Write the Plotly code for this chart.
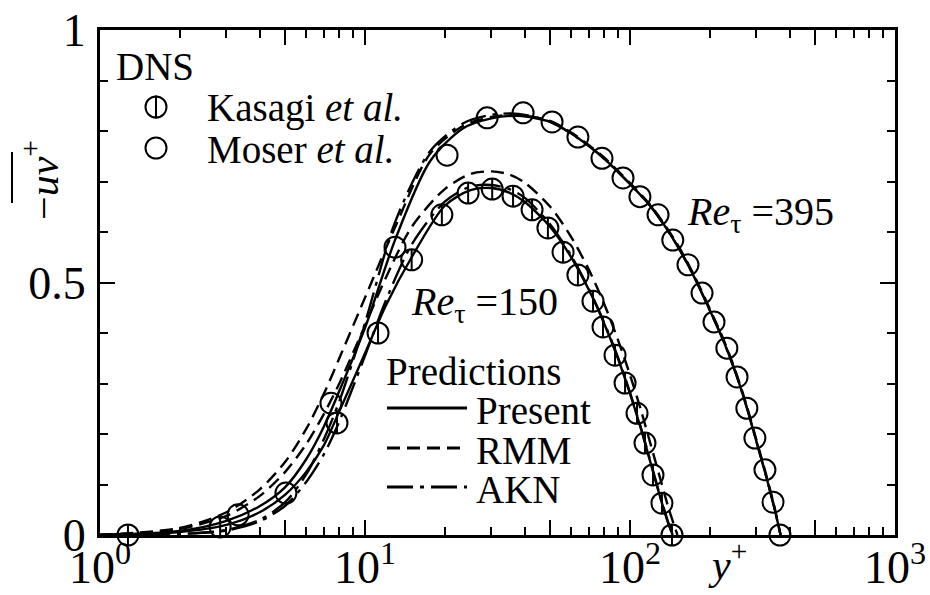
import plotly.graph_objects as go

# ---- DNS data: -uv+ against y+ ----
kasagi_yp = [1.275, 2.84, 7.84, 11.2, 15.0, 19.5, 24.5, 30.2, 36.2, 42.7, 49.0, 55.9,
             63.6, 72.5, 79.1, 87.8, 95.8, 106.3, 113.9, 122.1, 132.0, 144.0]
kasagi_uv = [0.0, 0.016, 0.222, 0.40, 0.545, 0.634, 0.677, 0.685, 0.671, 0.644, 0.608, 0.560,
             0.515, 0.463, 0.412, 0.356, 0.301, 0.241, 0.182, 0.119, 0.063, 0.0]

moser_yp = [3.32, 5.03, 7.44, 12.98, 20.4, 28.9, 39.5, 50.8, 63.6, 78.4, 94.1, 109.0,
            127.6, 145.0, 165.5, 187.0, 207.5, 232.0, 253.5, 276.0, 296.0, 323.0, 346.5, 368.0]
moser_uv = [0.040, 0.083, 0.261, 0.570, 0.752, 0.826, 0.836, 0.818, 0.788, 0.746, 0.707, 0.670,
            0.634, 0.584, 0.535, 0.479, 0.422, 0.370, 0.313, 0.251, 0.192, 0.129, 0.065, 0.0]

# ---- model predictions, Re_tau = 150 ----
yp150 = [1, 2, 3, 4, 5, 6, 7, 8, 10, 12, 15, 20, 25, 30, 35, 40, 50, 60, 70, 80, 90, 100,
         110, 120, 130, 140, 145]
present150 = [0.0, 0.006, 0.02, 0.045, 0.08, 0.125, 0.178, 0.245, 0.36, 0.455, 0.55, 0.652,
              0.683, 0.687, 0.678, 0.66, 0.61, 0.55, 0.485, 0.418, 0.35, 0.28, 0.21, 0.14,
              0.075, 0.02, 0.0]
akn150 = [0.0, 0.002, 0.009, 0.027, 0.058, 0.105, 0.16, 0.225, 0.355, 0.465, 0.575, 0.66,
          0.69, 0.693, 0.685, 0.668, 0.615, 0.553, 0.487, 0.42, 0.352, 0.282, 0.212, 0.142,
          0.077, 0.022, 0.0]
yp150_rmm = [1, 2, 3, 4, 5, 6, 7, 8, 10, 12, 15, 20, 25, 30, 35, 40, 50, 60, 70, 80, 90, 100,
             110, 120, 130, 140, 151]
rmm150 = [0.0, 0.012, 0.038, 0.077, 0.125, 0.18, 0.24, 0.3, 0.415, 0.51, 0.61, 0.685, 0.715,
          0.72, 0.714, 0.698, 0.65, 0.59, 0.525, 0.457, 0.387, 0.317, 0.247, 0.177, 0.112,
          0.052, 0.0]

# ---- model predictions, Re_tau = 395 ----
yp395 = [1, 2, 3, 4, 5, 6, 7, 8, 10, 13, 17.6, 23.4, 30, 38, 50, 60, 70, 80, 100, 120, 150,
         175, 200, 225, 250, 275, 300, 325, 350, 370]
present395 = [0.0, 0.008, 0.028, 0.057, 0.095, 0.15, 0.215, 0.285, 0.41, 0.585, 0.74, 0.805,
              0.825, 0.83, 0.818, 0.795, 0.77, 0.745, 0.695, 0.65, 0.575, 0.51, 0.445, 0.385,
              0.322, 0.255, 0.185, 0.12, 0.055, 0.0]
rmm395 = [0.0, 0.014, 0.045, 0.09, 0.145, 0.21, 0.28, 0.35, 0.47, 0.61, 0.755, 0.81, 0.828,
          0.832, 0.82, 0.797, 0.772, 0.747, 0.697, 0.652, 0.578, 0.513, 0.448, 0.388, 0.325,
          0.258, 0.188, 0.123, 0.058, 0.0]
akn395 = [0.0, 0.002, 0.01, 0.03, 0.065, 0.12, 0.19, 0.265, 0.42, 0.62, 0.76, 0.815, 0.832,
          0.834, 0.818, 0.795, 0.77, 0.745, 0.695, 0.65, 0.575, 0.51, 0.445, 0.385, 0.322,
          0.255, 0.185, 0.12, 0.055, 0.0]

# ---- axis ticks ----
x_major = [1, 5, 10, 50, 100, 500, 1000]
x_major_text = ["10<sup>0</sup>", "", "10<sup>1</sup>", "", "10<sup>2</sup>", "", "10<sup>3</sup>"]
x_minor = [m * d for d in (1, 10, 100) for m in (2, 3, 4, 6, 7, 8, 9)]
y_major = [0, 0.5, 1]
y_major_text = ["0", "0.5", "1"]

FONT = "Liberation Serif"
W, H = 930, 595
ML, MR, MT, MB = 100, 35, 30, 60
PW, PH = W - ML - MR, H - MT - MB


def px(x):
    return (x - ML) / PW


def py(y):
    return (H - MB - y) / PH


DASH = "13px,7px"
DASHDOT = "26px,7px,4px,7px"
LW = 2.4

fig = go.Figure()

curves = [
    (yp150, present150, "solid"), (yp150_rmm, rmm150, DASH), (yp150, akn150, DASHDOT),
    (yp395, present395, "solid"), (yp395, rmm395, DASH), (yp395, akn395, DASHDOT),
]
for xs, ys, dash in curves:
    fig.add_trace(go.Scatter(x=xs, y=ys, mode="lines", showlegend=False,
                             line=dict(color="black", width=LW, dash=dash,
                                       shape="spline", smoothing=0.8)))

MS = 21
marker_base = dict(color="black", line=dict(color="black", width=2))
fig.add_trace(go.Scatter(x=moser_yp, y=moser_uv, mode="markers", showlegend=False,
                         cliponaxis=False,
                         marker=dict(symbol="circle-open", size=MS, **marker_base)))
fig.add_trace(go.Scatter(x=kasagi_yp, y=kasagi_uv, mode="markers", showlegend=False,
                         cliponaxis=False,
                         marker=dict(symbol="circle-open", size=MS, **marker_base)))
fig.add_trace(go.Scatter(x=kasagi_yp, y=kasagi_uv, mode="markers", showlegend=False,
                         cliponaxis=False,
                         marker=dict(symbol="line-ns-open", size=MS / 1.4, **marker_base)))

# ---- legend and labels ----
ann = []
shapes = []


def text(x, y, s, size=39, xanchor="left", angle=0):
    ann.append(dict(x=px(x), y=py(y), xref="paper", yref="paper", text=s, showarrow=False,
                    xanchor=xanchor, yanchor="middle", textangle=angle,
                    font=dict(family=FONT, size=size, color="black")))


text(114, 67, "DNS")
text(205, 108, "Kasagi <i>et al.</i>")
text(205, 149, "Moser <i>et al.</i>")
text(384, 372, "Predictions")
text(474, 410, "Present")
text(474, 450, "RMM")
text(474, 489, "AKN")
text(409, 304, "<i>Re</i><sub>τ</sub> =150", size=40)
text(685, 214, "<i>Re</i><sub>τ</sub> =395", size=40)
text(727, 561, "<i>y</i><sup>+</sup>", size=42, xanchor="center")
text(40, 180, "−<i>uv</i><sup>+</sup>", size=42, xanchor="center", angle=-90)

R = MS / 2
for cy in (107, 148):
    shapes.append(dict(type="circle", xref="paper", yref="paper",
                       x0=px(156 - R), x1=px(156 + R), y0=py(cy + R), y1=py(cy - R),
                       line=dict(color="black", width=2)))
shapes.append(dict(type="line", xref="paper", yref="paper",
                   x0=px(156), x1=px(156), y0=py(107 + R + 1), y1=py(107 - R - 1),
                   line=dict(color="black", width=2)))
for ly, dash in ((408, "solid"), (448, DASH), (487, DASHDOT)):
    shapes.append(dict(type="line", xref="paper", yref="paper",
                       x0=px(387), x1=px(467), y0=py(ly), y1=py(ly),
                       line=dict(color="black", width=3, dash=dash)))
# overbar of the y-axis title
shapes.append(dict(type="line", xref="paper", yref="paper",
                   x0=px(12), x1=px(12), y0=py(152), y1=py(203),
                   line=dict(color="black", width=2)))

axis_common = dict(showline=True, linecolor="black", linewidth=3, mirror="ticks",
                   ticks="inside", tickcolor="black", tickwidth=2, ticklen=15,
                   showgrid=False, zeroline=False, automargin=False,
                   tickfont=dict(family=FONT, size=46, color="black"))

fig.update_layout(
    width=W, height=H,
    margin=dict(l=ML, r=MR, t=MT, b=MB),
    paper_bgcolor="white", plot_bgcolor="white",
    font=dict(family=FONT, color="black"),
    xaxis=dict(type="log", range=[0, 3], tickmode="array", tickvals=x_major,
               ticktext=x_major_text, ticklabelstandoff=-10,
               minor=dict(tickmode="array", tickvals=x_minor, ticks="inside", ticklen=8,
                          tickwidth=2, tickcolor="black", showgrid=False),
               **axis_common),
    yaxis=dict(range=[0, 1], tickmode="array", tickvals=y_major, ticktext=y_major_text,
               ticklabelstandoff=2,
               minor=dict(dtick=0.1, ticks="inside", ticklen=8, tickwidth=2,
                          tickcolor="black", showgrid=False),
               **axis_common),
    annotations=ann,
    shapes=shapes,
)

fig.write_html("out.html")
